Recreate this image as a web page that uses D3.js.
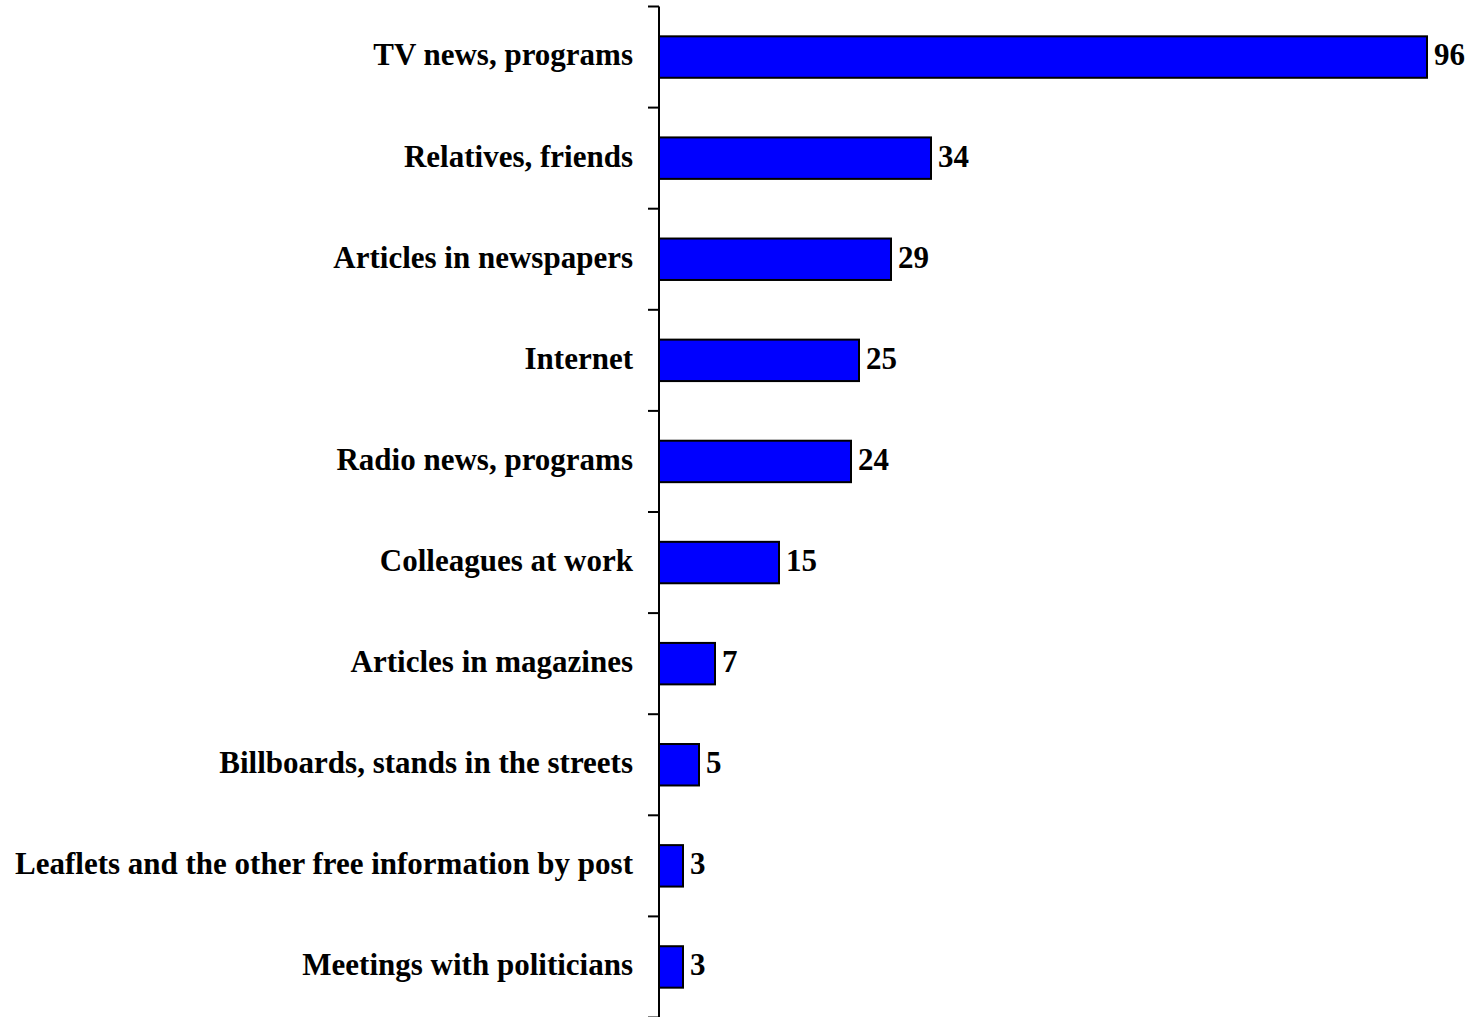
<!DOCTYPE html>
<html>
<head>
  <meta charset="utf-8">
  <script src="https://d3js.org/d3.v7.min.js"></script>
  <style>
    body { margin: 0; background: #fff; }
    text { font-family: "Liberation Serif", "Times New Roman", serif; font-weight: bold; fill: #000; }
  </style>
</head>
<body>
<div id="chart"></div>
<script>
  const categories = [
    "TV news, programs",
    "Relatives, friends",
    "Articles in newspapers",
    "Internet",
    "Radio news, programs",
    "Colleagues at work",
    "Articles in magazines",
    "Billboards, stands in the streets",
    "Leaflets and the other free information by post",
    "Meetings with politicians"
  ];
  const values = [96, 34, 29, 25, 24, 15, 7, 5, 3, 3];

  const width = 1473;
  const height = 1017;
  const axisX = 659;

  const svg = d3.select("#chart")
    .append("svg")
    .attr("width", width)
    .attr("height", height);

  const x = d3.scaleLinear().domain([0, 96]).range([axisX, 1427]);

  const y = d3.scaleBand()
    .domain(categories)
    .range([6.5, 1017.5])
    .paddingInner(0.59)
    .paddingOuter(0.295);

  const step = y.step();

  // axis line + tick marks between categories
  svg.append("line")
    .attr("x1", axisX).attr("x2", axisX)
    .attr("y1", 6.5).attr("y2", height)
    .attr("stroke", "black")
    .attr("stroke-width", 2);

  const tickPos = categories.map(c => y(c) - step * 0.295);
  tickPos.push(tickPos[tickPos.length - 1] + step);
  svg.selectAll(".tick")
    .data(tickPos)
    .join("line")
    .attr("x1", axisX - 11).attr("x2", axisX)
    .attr("y1", d => d).attr("y2", d => d)
    .attr("stroke", "black")
    .attr("stroke-width", 2);

  const data = categories.map((c, i) => ({ name: c, value: values[i] }));

  svg.selectAll(".bar")
    .data(data)
    .join("rect")
    .attr("x", x(0))
    .attr("y", d => y(d.name))
    .attr("width", d => x(d.value) - x(0))
    .attr("height", y.bandwidth())
    .attr("fill", "#0000ff")
    .attr("stroke", "black")
    .attr("stroke-width", 2);

  svg.selectAll(".cat")
    .data(data)
    .join("text")
    .attr("x", 633)
    .attr("y", d => y(d.name) + y.bandwidth() / 2)
    .attr("dy", "0.27em")
    .attr("text-anchor", "end")
    .style("font-size", "31px")
    .text(d => d.name);

  svg.selectAll(".val")
    .data(data)
    .join("text")
    .attr("x", d => x(d.value) + 7)
    .attr("y", d => y(d.name) + y.bandwidth() / 2)
    .attr("dy", "0.27em")
    .style("font-size", "31px")
    .text(d => d.value);
</script>
</body>
</html>
